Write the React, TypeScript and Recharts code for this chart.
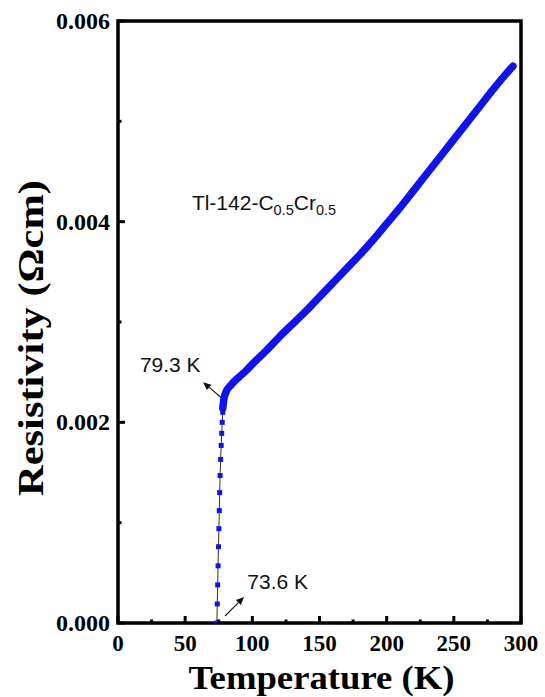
import React from 'react';
import {
  LineChart,
  Line,
  XAxis,
  YAxis,
  ReferenceArea,
  ReferenceLine,
  ReferenceDot,
} from 'recharts';

// normal-state branch (dense points, drawn as a thick band)
const normalT = [78.0, 78.8, 80, 82, 84, 86, 90, 95, 100, 110, 120, 130, 140, 150, 160, 170, 180, 190, 200, 210, 220, 230, 240, 250, 260, 270, 280, 290, 294];
const normalRho = [0.00214, 0.00223, 0.00229, 0.00234, 0.00237, 0.0024, 0.00245, 0.00251, 0.00258, 0.00271, 0.00285, 0.00298, 0.00311, 0.00325, 0.00339, 0.00353, 0.00367, 0.00382, 0.00398, 0.00414, 0.00431, 0.00448, 0.00465, 0.00482, 0.00499, 0.00516, 0.00533, 0.00549, 0.00555];

// superconducting transition (sparse square markers)
const transT = [73.6, 73.9, 74.2, 74.5, 74.8, 75.1, 75.4, 75.7, 76.0, 76.4, 76.8, 77.2, 77.6, 78.0];
const transRho = [0, 0.00019, 0.00038, 0.00057, 0.00076, 0.00094, 0.00112, 0.0013, 0.00147, 0.00163, 0.00177, 0.00189, 0.002, 0.0021];

const xTicks = [0, 25, 50, 75, 100, 125, 150, 175, 200, 225, 250, 275, 300];
const yTicks = [0, 0.001, 0.002, 0.003, 0.004, 0.005, 0.006];

const normalData = normalT.map((t, i) => ({ T: t, R: normalRho[i] }));
const transData = transT.map((t, i) => ({ T: t, R: transRho[i] }));

const BLUE = '#1212ea';
const serif = '"Liberation Serif", "Times New Roman", serif';
const sans = '"Liberation Sans", Arial, sans-serif';

const XTick = (props: any) => {
  const { x, y, payload } = props;
  const major = payload.value % 50 === 0;
  return (
    <g>
      <line x1={x} x2={x} y1={y} y2={y - (major ? 7 : 3.5)} stroke="#000" strokeWidth={3} />
      {major && (
        <text x={x} y={y + 28} textAnchor="middle" fontFamily={serif} fontWeight="bold" fontSize={23} fill="#000">
          {payload.value}
        </text>
      )}
    </g>
  );
};

const YTick = (props: any) => {
  const { x, y, payload } = props;
  const major = Math.round(payload.value * 1000) % 2 === 0;
  return (
    <g>
      <line x1={x} x2={x + (major ? 7 : 3.5)} y1={y} y2={y} stroke="#000" strokeWidth={3} />
      {major && (
        <text x={x - 8} y={y + 8} textAnchor="end" fontFamily={serif} fontWeight="bold" fontSize={24} fill="#000">
          {payload.value.toFixed(3)}
        </text>
      )}
    </g>
  );
};

const Arrow = (props: any) => {
  const { x1, y1, x2, y2 } = props;
  const a = Math.atan2(y2 - y1, x2 - x1);
  const len = 8;
  const w = 3.5;
  const bx = x2 - len * Math.cos(a);
  const by = y2 - len * Math.sin(a);
  const px = -Math.sin(a) * w;
  const py = Math.cos(a) * w;
  return (
    <g>
      <line x1={x1} y1={y1} x2={bx} y2={by} stroke="#222" strokeWidth={1.2} />
      <polygon points={`${x2},${y2} ${bx + px},${by + py} ${bx - px},${by - py}`} fill="#111" />
    </g>
  );
};

const textAt = (content: React.ReactNode, anchor: 'start' | 'end' = 'start', size = 21) => (p: any) => (
  <text x={p.cx} y={p.cy} textAnchor={anchor} fontFamily={sans} fontSize={size} fill="#111">
    {content}
  </text>
);

const sampleLabel = (
  <>
    <tspan>Tl-142-C</tspan>
    <tspan dy={5} fontSize={14.5}>0.5</tspan>
    <tspan dy={-5}>Cr</tspan>
    <tspan dy={5} fontSize={14.5}>0.5</tspan>
  </>
);

const YTitle = (props: any) => {
  const vb = props.viewBox || { x: 0, y: 21, width: 118, height: 602 };
  const cx = vb.x + 31;
  const cy = vb.y + vb.height / 2 + 16;
  return (
    <text
      x={cx}
      y={cy}
      transform={`rotate(-90 ${cx} ${cy})`}
      textAnchor="middle"
      dominantBaseline="central"
      fontFamily={serif}
      fontWeight="bold"
      fontSize={35}
      textLength={316}
      lengthAdjust="spacingAndGlyphs"
      fill="#000"
    >
      Resistivity (Ωcm)
    </text>
  );
};

const XTitle = (props: any) => {
  const vb = props.viewBox || { x: 118, y: 623, width: 403, height: 74 };
  return (
    <text
      x={vb.x + vb.width / 2 + 2}
      y={vb.y + 66}
      textAnchor="middle"
      fontFamily={serif}
      fontWeight="bold"
      fontSize={34}
      textLength={266}
      lengthAdjust="spacingAndGlyphs"
      fill="#000"
    >
      Temperature (K)
    </text>
  );
};

const App: React.FC = () => {
  return (
    <div style={{ position: 'absolute', left: 0, top: 0, width: 545, height: 697, background: '#fff' }}>
      <LineChart width={545} height={697} margin={{ top: 21, right: 24, left: 0, bottom: 0 }}>
        <XAxis
          dataKey="T"
          type="number"
          domain={[0, 300]}
          ticks={xTicks}
          interval={0}
          height={74}
          axisLine={false}
          tickLine={false}
          tickSize={0}
          tickMargin={0}
          tick={<XTick />}
          label={{ content: <XTitle /> }}
          allowDataOverflow
        />
        <YAxis
          dataKey="R"
          type="number"
          domain={[0, 0.006]}
          ticks={yTicks}
          interval={0}
          width={118}
          axisLine={false}
          tickLine={false}
          tickSize={0}
          tickMargin={0}
          tick={<YTick />}
          label={{ content: <YTitle /> }}
          allowDataOverflow
        />
        <ReferenceArea x1={0} x2={300} y1={0} y2={0.006} fill="none" stroke="#000" strokeWidth={3.5} ifOverflow="visible" />
        <Line
          data={transData}
          dataKey="R"
          type="linear"
          stroke="#333"
          strokeWidth={1}
          isAnimationActive={false}
          dot={(p: any) => (
            <rect key={`sq-${p.index}`} x={p.cx - 2.5} y={p.cy - 2.5} width={5} height={5} fill={BLUE} />
          )}
        />
        <Line
          data={normalData}
          dataKey="R"
          type="monotone"
          stroke={BLUE}
          strokeWidth={7.5}
          strokeLinecap="round"
          strokeLinejoin="round"
          isAnimationActive={false}
          dot={false}
        />
        <ReferenceLine segment={[{ x: 77.4, y: 0.00224 }, { x: 63.3, y: 0.0024 }]} shape={<Arrow />} />
        <ReferenceLine segment={[{ x: 79.7, y: 0.00007 }, { x: 93.8, y: 0.00026 }]} shape={<Arrow />} />
        <ReferenceDot x={61.5} y={0.0025} r={0} shape={textAt('79.3 K', 'end')} />
        <ReferenceDot x={96.3} y={0.00034} r={0} shape={textAt('73.6 K', 'start')} />
        <ReferenceDot x={55} y={0.00412} r={0} shape={textAt(sampleLabel, 'start', 21)} />
      </LineChart>
    </div>
  );
};

export default App;
